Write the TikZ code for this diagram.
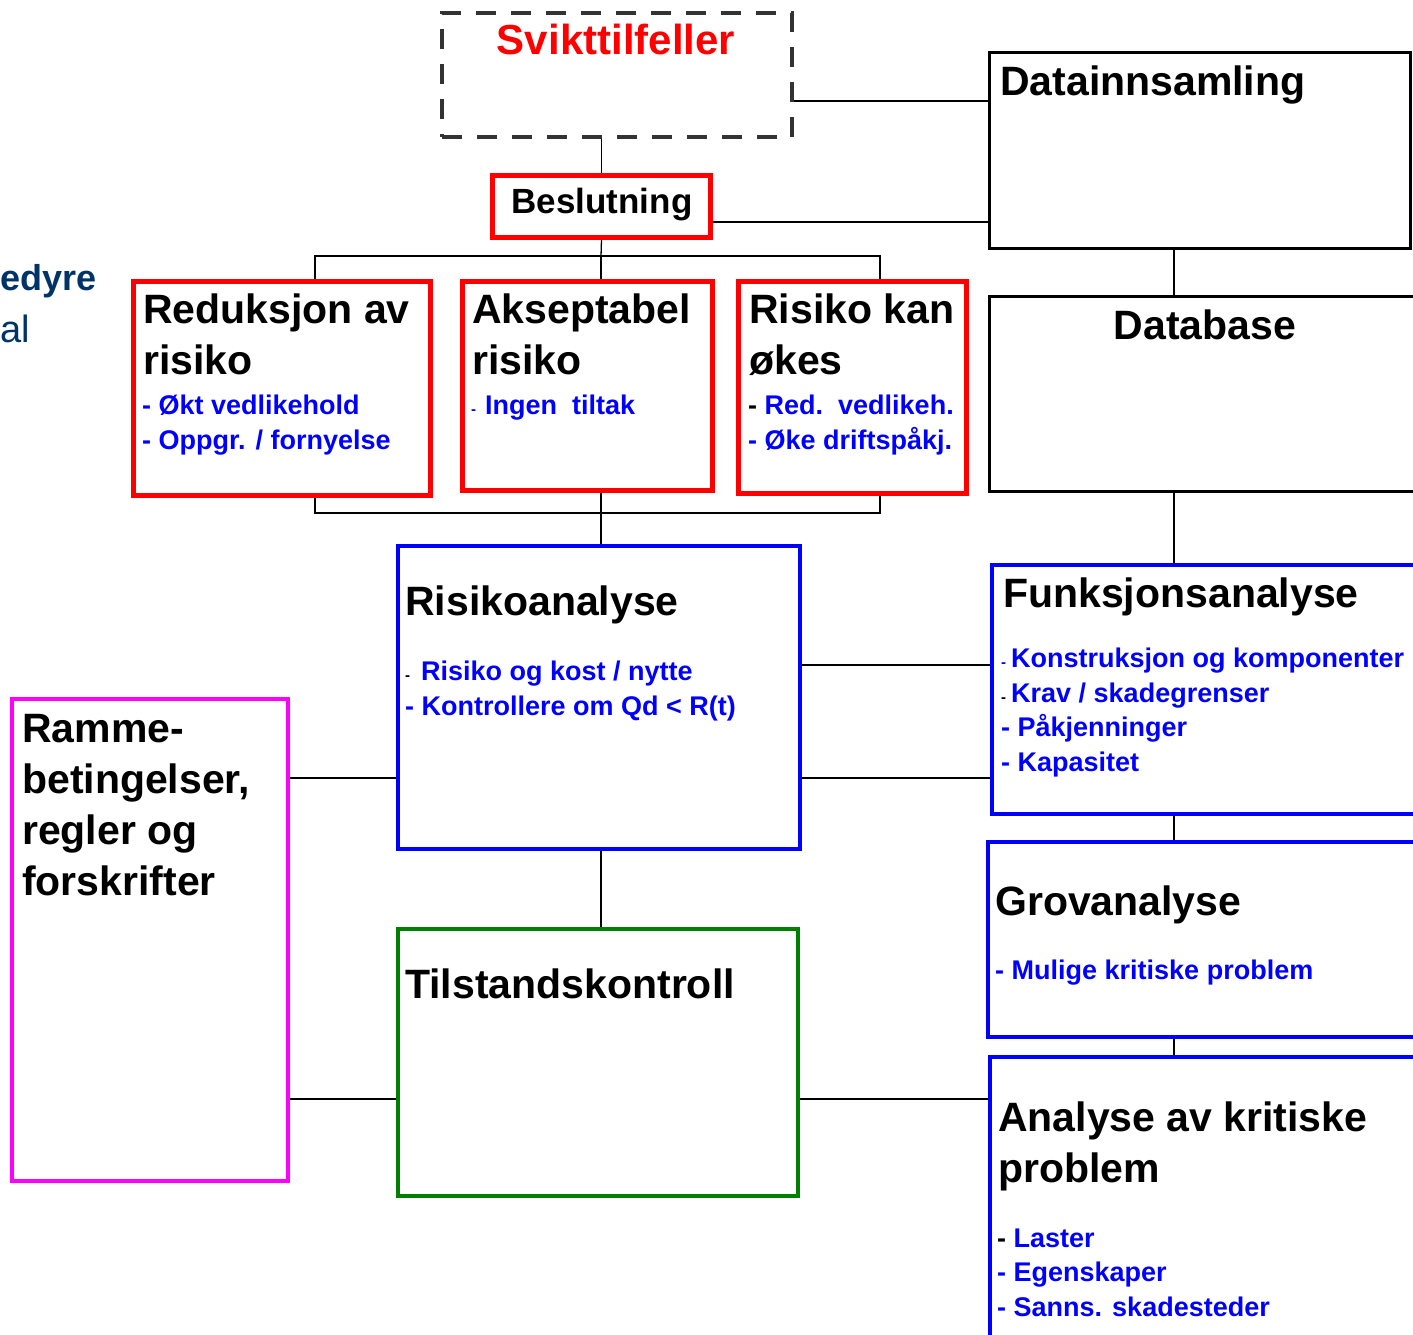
\documentclass[tikz,border=0pt]{standalone}
\usepackage{fontspec}
\setmainfont{Liberation Sans}
\usetikzlibrary{positioning, calc}
\definecolor{failred}{RGB}{255, 0, 0}
\definecolor{itemblue}{RGB}{0, 0, 255}
\definecolor{ctrlgreen}{RGB}{0, 128, 0}
\definecolor{framemag}{RGB}{255, 0, 255}
\definecolor{dashgray}{RGB}{51, 51, 51}
\definecolor{leftnavy}{RGB}{0, 51, 102}
\newcommand{\tinydash}[1]{{\color{#1}\fontsize{15}{15}\selectfont -}}
\tikzset{
  box/.style={draw, rectangle, inner sep=0pt, line width=4pt},
  head/.style={anchor=base west, align=left, inner sep=0pt, font=\fontsize{41}{51}\selectfont\bfseries},
  items/.style={anchor=base west, align=left, inner sep=0pt, text=itemblue, font=\fontsize{27}{34.5}\selectfont\bfseries},
  link/.style={draw=black, line width=1.3pt},
}

\begin{document}
\begin{tikzpicture}[x=1pt, y=-1pt]
  \useasboundingbox (0,0) rectangle (1413,1335);

  % cut-off text at the left edge
  \node[anchor=base west, inner sep=0pt, text=leftnavy, font=\fontsize{36}{36}\selectfont\bfseries] (cutone) at (0,290) {edyre};
  \node[anchor=base west, inner sep=0pt, text=leftnavy, font=\fontsize{38}{38}\selectfont] (cuttwo) at (0,342) {al};

  % top: failure cases and decision
  \node[box, draw=dashgray, dash pattern=on 20pt off 15pt, minimum width=350, minimum height=124] (svikt) at (617,75) {};
  \node[anchor=base, inner sep=0pt, text=failred, font=\fontsize{42}{42}\selectfont\bfseries] (sviktt) at (616,55) {Svikttilfeller};
  \node[box, draw=failred, line width=5pt, minimum width=218, minimum height=62] (besl) at (601.5,206.5) {};
  \node[anchor=base, inner sep=0pt, font=\fontsize{35}{35}\selectfont\bfseries] (beslt) at (602,213) {Beslutning};

  % three outcomes (base = last line)
  \node[box, draw=failred, line width=5pt, minimum width=297, minimum height=214] (reduk) at (282,388.5) {};
  \node[head] (redukt) at (143,374) {Reduksjon av\\risiko};
  \node[items] (reduki) at (142,449) {- Økt vedlikehold\\- Oppgr. / fornyelse};
  \node[box, draw=failred, line width=5pt, minimum width=250, minimum height=209] (aksept) at (587.5,386) {};
  \node[head] (akseptt) at (472,374) {Akseptabel\\risiko};
  \node[items] (aksepti) at (471,414) {\tinydash{itemblue}\hspace{9pt}Ingen\ \ tiltak};
  \node[box, draw=failred, line width=5pt, minimum width=228, minimum height=212] (okes) at (852.5,387.5) {};
  \node[head] (okest) at (749,374) {Risiko kan\\økes};
  \node[items] (okesi) at (748,449) {{\color{black}-} Red.\ \ vedlikeh.\\- Øke driftspåkj.};

  % right column
  \node[box, line width=3pt, minimum width=421, minimum height=195] (data) at (1199.5,150.5) {};
  \node[head] (datat) at (1000,96) {Datainnsamling};
  \node[box, line width=3pt, minimum width=451, minimum height=195] (dbase) at (1214.5,393.5) {};
  \node[anchor=base, inner sep=0pt, font=\fontsize{41}{41}\selectfont\bfseries] (dbaset) at (1205,339) {Database};
  \node[box, draw=itemblue, minimum width=458, minimum height=249] (funk) at (1221,689.5) {};
  \node[head] (funkt) at (1003,607) {Funksjonsanalyse};
  \node[items] (funki) at (1001,771) {\tinydash{itemblue}\hspace{5pt}Konstruksjon og komponenter\\\tinydash{black}\hspace{5pt}Krav / skadegrenser\\- Påkjenninger\\- Kapasitet};
  \node[box, draw=itemblue, minimum width=462, minimum height=195] (grov) at (1219,939.5) {};
  \node[head] (grovt) at (995,915) {Grovanalyse};
  \node[items] (grovi) at (995,979) {- Mulige kritiske problem};
  \node[box, draw=itemblue, minimum width=460, minimum height=343] (analyse) at (1220,1228.5) {};
  \node[head] (analyset) at (998,1182) {Analyse av kritiske\\problem};
  \node[items] (analysei) at (997,1316) {{\color{black}-} Laster\\- Egenskaper\\- Sanns. skadesteder};

  % middle column
  \node[box, draw=itemblue, minimum width=402, minimum height=303] (rana) at (599,697.5) {};
  \node[head] (ranat) at (405,615) {Risikoanalyse};
  \node[items] (ranai) at (405,715) {\tinydash{black}\hspace{11pt}Risiko og kost / nytte\\- Kontrollere om Qd < R(t)};
  \node[box, draw=ctrlgreen, minimum width=400, minimum height=267] (tilst) at (598,1062.5) {};
  \node[head] (tilstt) at (405,998) {Tilstandskontroll};

  % left: frame conditions
  \node[box, draw=framemag, minimum width=276, minimum height=482] (ramme) at (150,940) {};
  \node[head] (rammet) at (22,895) {Ramme-\\betingelser,\\regler og\\forskrifter};

  % connectors
  \draw[link] (svikt.east |- 0,101) -- (data.west |- 0,101);
  \draw[link] (svikt.south -| besl.north) -- (besl.north);
  \draw[link] (besl.east |- 0,222) -- (data.west |- 0,222);
  \coordinate (jtop) at (601,256);
  \draw[link] (besl.south) -- (jtop);
  \draw[link] (reduk.north -| 315,0) |- (jtop) -| (okes.north -| 880,0);
  \draw[link] (jtop) -- (aksept.north -| jtop);
  \coordinate (jbot) at (601,513);
  \draw[link] (reduk.south -| 315,0) |- (jbot) -| (okes.south -| 880,0);
  \draw[link] (aksept.south -| jbot) -- (rana.north -| jbot);

  \coordinate (spine) at (1174,0);
  \draw[link] (data.south -| spine) -- (dbase.north -| spine);
  \draw[link] (dbase.south -| spine) -- (funk.north -| spine);
  \draw[link] (funk.south -| spine) -- (grov.north -| spine);
  \draw[link] (grov.south -| spine) -- (analyse.north -| spine);

  \draw[link] (rana.east |- 0,665) -- (funk.west |- 0,665);
  \draw[link] (rana.east |- 0,778) -- (funk.west |- 0,778);
  \draw[link] (ramme.east |- 0,778) -- (rana.west |- 0,778);
  \draw[link] (rana.south -| jbot) -- (tilst.north -| jbot);
  \draw[link] (ramme.east |- 0,1099) -- (tilst.west |- 0,1099);
  \draw[link] (tilst.east |- 0,1099) -- (analyse.west |- 0,1099);
\end{tikzpicture}
\end{document}
